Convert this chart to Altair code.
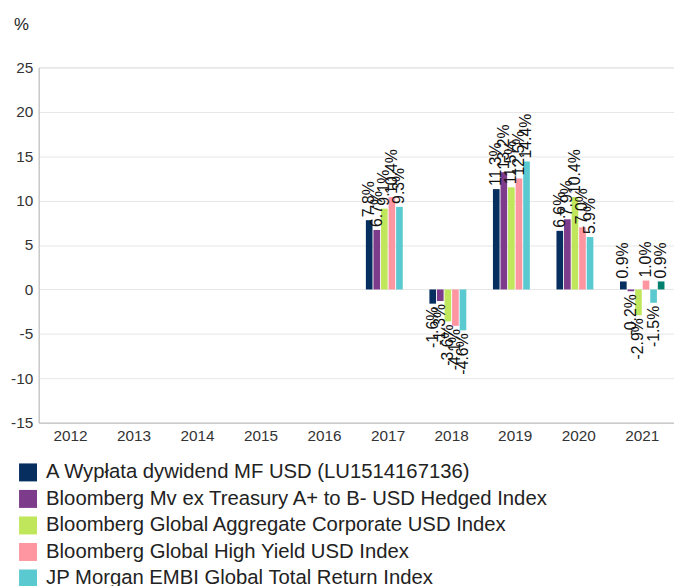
import altair as alt
import pandas as pd

years = ["2012", "2013", "2014", "2015", "2016", "2017", "2018", "2019", "2020", "2021"]
series = [
    "A Wypłata dywidend MF USD (LU1514167136)",
    "Bloomberg Mv ex Treasury A+ to B- USD Hedged Index",
    "Bloomberg Global Aggregate Corporate USD Index",
    "Bloomberg Global High Yield USD Index",
    "JP Morgan EMBI Global Total Return Index",
    "Wskaźnik referencyjny",
]
colors = ["#062f5f", "#7d3b8b", "#c0e75b", "#fd96a1", "#5bc9d0", "#00806f"]

s1 = [None, None, None, None, None, 7.8, -1.6, 11.3, 6.6, 0.9]
s2 = [None, None, None, None, None, 6.7, -1.3, 13.2, 7.9, -0.2]
s3 = [None, None, None, None, None, 9.1, -3.6, 11.5, 10.4, -2.9]
s4 = [None, None, None, None, None, 10.4, -4.1, 12.5, 7.0, 1.0]
s5 = [None, None, None, None, None, 9.3, -4.6, 14.4, 5.9, -1.5]
s6 = [None, None, None, None, None, None, None, None, None, 0.9]

rows = []
for name, vals in zip(series, [s1, s2, s3, s4, s5, s6]):
    for y, v in zip(years, vals):
        if v is not None:
            rows.append({"year": y, "series": name, "value": v})
df = pd.DataFrame(rows)

FONT = "Liberation Sans"
xscale = alt.Scale(domain=years, paddingInner=0.3, paddingOuter=0.15)
xoscale = alt.Scale(domain=series, paddingInner=0.12)

x_enc = alt.X("year:N", scale=xscale,
              axis=alt.Axis(title=None, labelAngle=0, ticks=False, labelFontSize=15.5,
                            labelColor="#333333", labelPadding=6, domainColor="#bbbbbb",
                            labelFont=FONT))
xo_enc = alt.XOffset("series:N", scale=xoscale)
y_enc = alt.Y("value:Q", scale=alt.Scale(domain=[-15, 25], nice=False),
              axis=alt.Axis(values=list(range(-15, 30, 5)), title="%", titleAngle=0,
                            titleX=-18, titleY=-38, titleAlign="center", titleBaseline="alphabetic",
                            titleFontSize=17, titleFontWeight="normal", titleColor="#222222",
                            titleFont=FONT, ticks=False, labelFontSize=15.5, labelColor="#333333",
                            labelPadding=6, labelFont=FONT, domainColor="#bbbbbb",
                            gridColor="#e6e6e6",
                            labelExpr="replace(datum.label, '\u2212', '-')"))
color_enc = alt.Color("series:N", scale=alt.Scale(domain=series, range=colors),
                      legend=alt.Legend(title=None, orient="none", legendX=-21, legendY=399,
                                        direction="vertical", symbolType="square", symbolSize=330,
                                        symbolStrokeWidth=0, symbolOpacity=1, labelFontSize=20.5,
                                        labelFont=FONT, labelColor="#222222", rowPadding=5.8,
                                        labelLimit=700, labelOffset=8))

base = alt.Chart(df)
bars = base.mark_bar().encode(x=x_enc, xOffset=xo_enc, y=y_enc, color=color_enc)

lab = base.transform_calculate(lbl="replace(format(datum.value, '.1f'), '\u2212', '-') + '%'")
pos = lab.transform_filter("datum.value >= 0").mark_text(
    angle=270, align="left", baseline="middle", dx=3, fontSize=16, font=FONT, color="#111111"
).encode(x=alt.X("year:N", scale=xscale), xOffset=alt.XOffset("series:N", scale=xoscale),
         y=alt.Y("value:Q"), text="lbl:N")
neg = lab.transform_filter("datum.value < 0").mark_text(
    angle=270, align="right", baseline="middle", dx=-3, fontSize=16, font=FONT, color="#111111"
).encode(x=alt.X("year:N", scale=xscale), xOffset=alt.XOffset("series:N", scale=xoscale),
         y=alt.Y("value:Q"), text="lbl:N")

chart = alt.layer(bars, pos, neg).properties(
    width=642, height=359,
    autosize=alt.AutoSizeParams(type="none"),
    padding={"left": 31, "top": 57, "right": 0, "bottom": 162},
).configure_view(stroke=None).configure(font=FONT)

chart.save("out.html", embed_options={"renderer": "svg", "actions": False})
